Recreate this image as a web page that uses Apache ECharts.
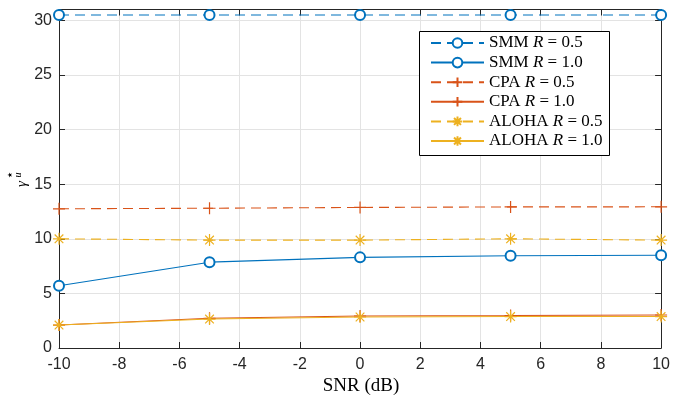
<!DOCTYPE html>
<html>
<head>
<meta charset="utf-8">
<script src="https://cdn.jsdelivr.net/npm/echarts@6/dist/echarts.min.js"></script>
<style>html,body{margin:0;padding:0;background:#fff}#c{width:673px;height:401px}</style>
</head>
<body>
<div id="c"></div>
<script>
const snr = [-10, -5, 0, 5, 10];
const xTicks = [-10, -8, -6, -4, -2, 0, 2, 4, 6, 8, 10];
const yTicks = [0, 5, 10, 15, 20, 25, 30];
const smmR05 = [30.5, 30.5, 30.5, 30.5, 30.5];
const smmR10 = [5.7, 7.86, 8.3, 8.45, 8.5];
const cpaR05 = [12.75, 12.8, 12.87, 12.92, 12.93];
const cpaR10 = [2.1, 2.72, 2.93, 2.97, 3.02];
const alohaR05 = [10.0, 9.88, 9.88, 10.0, 9.88];
const alohaR10 = [2.1, 2.65, 2.84, 2.88, 2.88];
const seriesNames = ['SMM R = 0.5', 'SMM R = 1.0', 'CPA R = 0.5', 'CPA R = 1.0', 'ALOHA R = 0.5', 'ALOHA R = 1.0'];

const C1 = '#0072BD', C2 = '#D95319', C3 = '#EDB120';
const PLUS = 'path://M0,-1L0,1M-1,0L1,0';
const STAR = 'path://M0,-1L0,1M-1,0L1,0M-0.72,-0.72L0.72,0.72M-0.72,0.72L0.72,-0.72';
const axisColor = '#262626';

function mk(name, data, color, dashed, symbol, size) {
  return {
    name: name, type: 'line', data: snr.map((x, i) => [x, data[i]]),
    symbol: symbol, symbolSize: size, showAllSymbol: true,
    lineStyle: { color: color, width: 1.1, type: dashed ? [10, 6] : 'solid' },
    itemStyle: { color: color, borderColor: color, borderWidth: 1.2 },
    emphasis: { disabled: true }, animation: false, z: 3
  };
}

const chart = echarts.init(document.getElementById('c'), null, { renderer: 'canvas' });
function axisCommon() {
  return {
    axisLine: { show: true, onZero: false, lineStyle: { color: axisColor, width: 1 } },
    axisTick: { show: true, inside: true, length: 6, lineStyle: { color: axisColor } }
  };
}
chart.setOption({
  animation: false,
  backgroundColor: '#fff',
  grid: { left: 59, right: 7, top: 9.5, bottom: 53, containLabel: false },
  xAxis: [
    Object.assign({ type: 'value', min: xTicks[0], max: xTicks[xTicks.length - 1], interval: xTicks[1] - xTicks[0], position: 'bottom',
      axisLabel: { color: axisColor, fontFamily: 'Liberation Sans', fontSize: 16, margin: 9 },
      splitLine: { show: true, lineStyle: { color: '#e3e3e3', width: 1 } } }, axisCommon()),
    Object.assign({ type: 'value', min: xTicks[0], max: xTicks[xTicks.length - 1], interval: xTicks[1] - xTicks[0], position: 'top',
      axisLabel: { show: false }, splitLine: { show: false } }, axisCommon())
  ],
  yAxis: [
    Object.assign({ type: 'value', min: 0, max: 31, interval: yTicks[1] - yTicks[0], position: 'left',
      axisLabel: { color: axisColor, fontFamily: 'Liberation Sans', fontSize: 16, margin: 7, showMaxLabel: false },
      splitLine: { show: true, lineStyle: { color: '#e3e3e3', width: 1 } } }, axisCommon()),
    Object.assign({ type: 'value', min: 0, max: 31, interval: yTicks[1] - yTicks[0], position: 'right',
      axisLabel: { show: false }, splitLine: { show: false } }, axisCommon())
  ],
  legend: {
    orient: 'vertical', left: 430, top: 34.5, padding: 0, itemGap: 2.6,
    itemWidth: 53, itemHeight: 12, itemTextGap: 3, z: 10,
    data: seriesNames, selectedMode: false,
    formatter: function (n) {
      const p = n.split(' R ');
      return '{t|' + p[0] + ' }{i|R}{t| ' + p[1] + '}';
    },
    textStyle: {
      rich: {
        t: { fontFamily: 'Liberation Serif', fontSize: 17, color: '#000', lineHeight: 17 },
        i: { fontFamily: 'Liberation Serif', fontStyle: 'italic', fontSize: 17, color: '#000', lineHeight: 17 }
      }
    }
  },
  graphic: [
    { type: 'rect', left: 419, top: 31, z: 9, shape: { x: 0, y: 0, width: 190, height: 124 },
      style: { fill: '#fff', stroke: '#000', lineWidth: 1 } },
    { type: 'text', x: 361, y: 386, z: 10, style: { text: 'SNR (dB)', fontFamily: 'Liberation Serif', fontSize: 19, fill: '#000', align: 'center', verticalAlign: 'middle' } },
    { type: 'text', x: 22, y: 184, rotation: Math.PI / 2, z: 10, style: { text: 'γ', fontFamily: 'Liberation Serif', fontStyle: 'italic', fontSize: 15, fill: '#000', align: 'center', verticalAlign: 'middle' } },
    { type: 'text', x: 11, y: 175, rotation: Math.PI / 2, z: 10, style: { text: '⋆', fontFamily: 'DejaVu Sans', fontSize: 13, fill: '#000', align: 'center', verticalAlign: 'middle' } },
    { type: 'text', x: 18, y: 175, rotation: Math.PI / 2, z: 10, style: { text: 'u', fontFamily: 'Liberation Serif', fontStyle: 'italic', fontSize: 10, fill: '#000', align: 'center', verticalAlign: 'middle' } }
  ],
  series: [
    mk(seriesNames[0], smmR05, C1, true, 'emptyCircle', 10),
    mk(seriesNames[1], smmR10, C1, false, 'emptyCircle', 10),
    mk(seriesNames[2], cpaR05, C2, true, PLUS, 12),
    mk(seriesNames[3], cpaR10, C2, false, PLUS, 12),
    mk(seriesNames[4], alohaR05, C3, true, STAR, 12),
    mk(seriesNames[5], alohaR10, C3, false, STAR, 12)
  ]
});
</script>
</body>
</html>
